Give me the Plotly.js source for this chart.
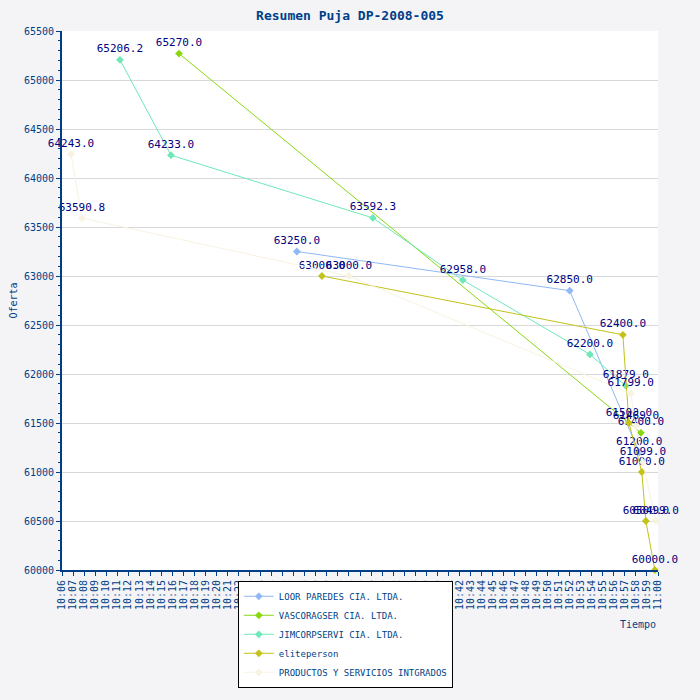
<!DOCTYPE html>
<html><head><meta charset="utf-8">
<script src="https://cdn.plot.ly/plotly-3.0.1.min.js"></script>
<style>body{margin:0}</style></head>
<body><div id="plot" style="width:700px;height:700px"></div>
<script>
const d = '2008-01-01 ';
const loorT = ['10:27:17', '10:52:00', '10:58:18'];
const loorV = [63250.0, 62850.0, 61200.0];
const vascoT = ['10:16:36', '10:58:27'];
const vascoV = [65270.0, 61400.0];
const jimT = ['10:11:15', '10:15:52', '10:34:10', '10:42:19', '10:53:50', '10:57:05'];
const jimV = [65206.2, 64233.0, 63592.3, 62958.0, 62200.0, 61879.0];
const eliteT = ['10:29:33', '10:56:49', '10:57:22', '10:58:32', '10:58:54', '10:59:43'];
const eliteV = [63000.0, 62400.0, 61500.0, 61000.0, 60500.0, 60000.0];
const prodT = ['10:06:49', '10:07:48', '10:32:00', '10:57:32', '10:58:00', '10:58:38', '10:59:48'];
const prodV = [64243.0, 63590.8, 63000.0, 61799.0, 61469.0, 61099.0, 60499.0];

const series = [
  ['LOOR PAREDES CIA. LTDA.', loorT, loorV, '#8fb8f5'],
  ['VASCORAGSER CIA. LTDA.', vascoT, vascoV, '#88d811'],
  ['JIMCORPSERVI CIA. LTDA.', jimT, jimV, '#6ee8b8'],
  ['eliteperson', eliteT, eliteV, '#c2c21a'],
  ['PRODUCTOS Y SERVICIOS INTGRADOS', prodT, prodV, '#f8f2e0']
];
const font = {family: 'DejaVu Sans Mono, monospace', size: 11, color: '#000080'};
const data = series.map(([name, t, v, c]) => ({
  name: name, x: t.map(s => d + s), y: v, type: 'scatter',
  mode: 'lines+markers+text', text: v.map(n => n.toFixed(1)),
  textposition: 'top center', textfont: font, cliponaxis: false,
  line: {color: c, width: 1}, marker: {color: c, size: 6, symbol: 'diamond'}
}));
const layout = {
  width: 700, height: 700,
  paper_bgcolor: '#f4f4f7', plot_bgcolor: '#ffffff',
  margin: {l: 62, r: 42, t: 31, b: 130, autoexpand: false},
  title: {text: '<b>Resumen Puja DP-2008-005</b>', x: 0.5, y: 0.985,
    font: {family: 'DejaVu Sans Mono, monospace', size: 13, color: '#003f87'}},
  font: {family: 'DejaVu Sans Mono, monospace', size: 10, color: '#003f87'},
  xaxis: {type: 'date', range: [d + '10:06:00', d + '11:00:00'], dtick: 60000,
    tickformat: '%H:%M', tickangle: -90, showgrid: false, ticks: 'outside',
    ticklen: 4, tickcolor: '#003f87', showline: true, linecolor: '#003f87', linewidth: 2,
    tickfont: {size: 10, color: '#003f87'}},
  yaxis: {range: [60000, 65500], dtick: 500, tickformat: 'd', gridcolor: '#d8d8d8', ticks: 'outside',
    ticklen: 4, tickcolor: '#003f87', showline: true, linecolor: '#003f87', linewidth: 2,
    minor: {dtick: 100, ticks: 'outside', ticklen: 2, tickcolor: '#003f87'},
    title: {text: 'Oferta', font: {size: 10, color: '#003f87'}, standoff: 4}, zeroline: false},
  legend: {x: 0.295, y: -0.02, xanchor: 'left', yanchor: 'top', bgcolor: '#ffffff',
    bordercolor: '#000000', borderwidth: 1, tracegroupgap: 0, itemwidth: 30,
    font: {size: 9, color: '#003f87'}},
  annotations: [{text: 'Tiempo', xref: 'paper', yref: 'paper', x: 1.0, y: -0.115,
    xanchor: 'right', showarrow: false, font: {size: 10, color: '#003f87'}}]
};
Plotly.newPlot('plot', data, layout, {displayModeBar: false});
</script></body></html>
